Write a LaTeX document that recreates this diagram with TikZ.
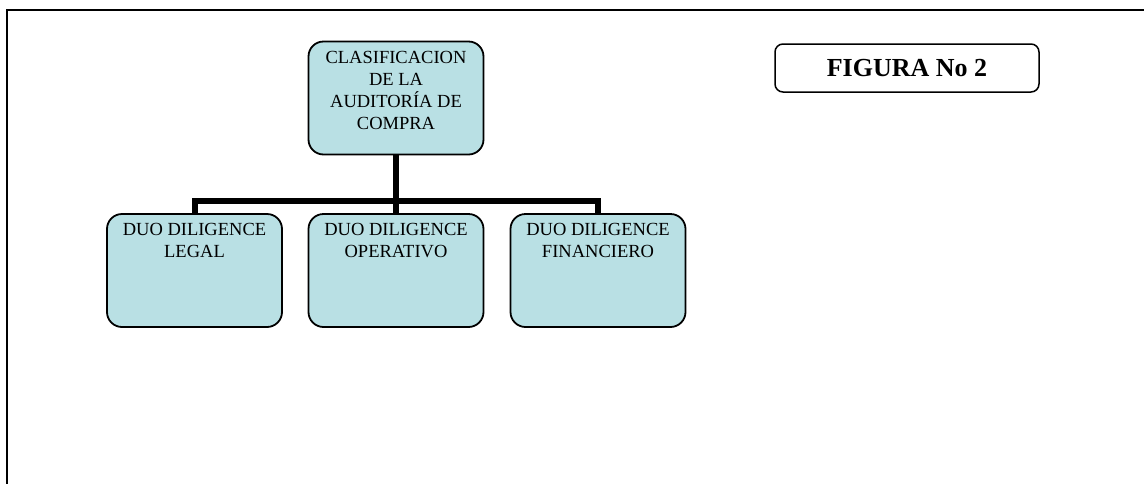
\documentclass[tikz,border=0pt]{standalone}
\usepackage{fontspec}
\setmainfont{Liberation Serif}
\definecolor{boxfill}{HTML}{B9E0E4}
\newcommand{\boxlines}[1]{\parbox[c][104pt][t]{166pt}{\centering\baselineskip=22pt\rule{0pt}{17pt}#1}}
\tikzset{
  orgbox/.style={draw=black, line width=1.8pt, fill=boxfill, rounded corners=15pt,
    inner sep=4.5pt, font=\fontsize{18.5}{22}\selectfont},
  titlebox/.style={draw=black, line width=1.5pt, rounded corners=8pt,
    minimum width=264pt, minimum height=48pt, inner sep=0pt,
    font=\fontsize{26}{30}\selectfont\bfseries},
  conn/.style={line width=6pt, line join=miter},
  frame/.style={line width=1.6pt}
}
\begin{document}
\begin{tikzpicture}[x=1pt, y=-1pt]
  \useasboundingbox (0,0) rectangle (1144,483);
  % outer frame (open towards the right and bottom)
  \coordinate (fbl) at (7,490);
  \coordinate (ftl) at (7,10);
  \coordinate (ftr) at (1150,10);
  \draw[frame] (fbl) -- (ftl) -- (ftr);

  % chart boxes
  \node[orgbox] (top)   at (396,98)   {\boxlines{CLASIFICACION\\DE LA\\AUDITORÍA DE\\COMPRA}};
  \node[orgbox] (legal) at (194.5,270.5) {\boxlines{DUO DILIGENCE\\LEGAL}};
  \node[orgbox] (oper)  at (396,270.5)   {\boxlines{DUO DILIGENCE\\OPERATIVO}};
  \node[orgbox] (fin)   at (598,270.5)   {\boxlines{DUO DILIGENCE\\FINANCIERO}};

  % title box
  \node[titlebox] (title) at (907,68) {FIGURA No 2};

  % connectors
  \coordinate (bus) at (0,201);
  \draw[conn] (top.south) -- (oper.north);
  \draw[conn] (legal.north) -- (legal.north |- bus) -- (fin.north |- bus) -- (fin.north);
\end{tikzpicture}
\end{document}
